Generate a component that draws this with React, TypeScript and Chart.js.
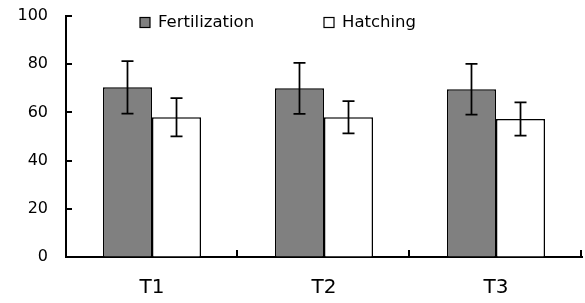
import React, { useEffect, useRef } from "react";
import { Chart, registerables } from "chart.js";

Chart.register(...registerables);

const categories = ["T1", "T2", "T3"];
const fertilization = [70.4, 70.0, 69.6];
const fertilizationErr = [10.9, 10.6, 10.5];
const hatching = [58.0, 58.0, 57.3];
const hatchingErr = [7.9, 6.7, 6.9];
const yTicks = [0, 20, 40, 60, 80, 100];

const FONT = "'DejaVu Sans', 'Liberation Sans', Arial, sans-serif";

const errorBarPlugin = {
  id: "errorBars",
  afterDatasetsDraw(chart: any) {
    const ctx = chart.ctx;
    const y = chart.scales.y;
    ctx.save();
    ctx.strokeStyle = "#000";
    ctx.lineWidth = 1.75;
    chart.data.datasets.forEach((ds: any, di: number) => {
      const meta = chart.getDatasetMeta(di);
      const errs = ds.errors as number[];
      meta.data.forEach((bar: any, i: number) => {
        const v = ds.data[i];
        const e = errs[i];
        const x = bar.x;
        const yt = y.getPixelForValue(v + e);
        const yb = y.getPixelForValue(v - e);
        ctx.beginPath();
        ctx.moveTo(x, yt);
        ctx.lineTo(x, yb);
        ctx.moveTo(x - 6, yt);
        ctx.lineTo(x + 6, yt);
        ctx.moveTo(x - 6, yb);
        ctx.lineTo(x + 6, yb);
        ctx.stroke();
      });
    });
    ctx.restore();
  },
};

const axisTickPlugin = {
  id: "inwardTicks",
  afterDraw(chart: any) {
    const ctx = chart.ctx;
    const x = chart.scales.x;
    const y = chart.scales.y;
    const area = chart.chartArea;
    ctx.save();
    ctx.strokeStyle = "#000";
    ctx.lineWidth = 2;
    ctx.beginPath();
    yTicks.forEach((t) => {
      const py = Math.round(y.getPixelForValue(t));
      ctx.moveTo(area.left, py);
      ctx.lineTo(area.left + 6, py);
    });
    const n = categories.length;
    for (let i = 1; i <= n; i++) {
      const px = Math.round(x.left + (i * (x.right - x.left)) / n) - 1;
      ctx.moveTo(px, area.bottom);
      ctx.lineTo(px, area.bottom - 7);
    }
    ctx.stroke();
    ctx.restore();
  },
};

const legendPlugin = {
  id: "insideLegend",
  afterDraw(chart: any) {
    const ctx = chart.ctx;
    const positions = [140, 324];
    ctx.save();
    ctx.font = `16.5px ${FONT}`;
    ctx.textBaseline = "middle";
    ctx.textAlign = "left";
    chart.data.datasets.forEach((ds: any, i: number) => {
      const bx = positions[i];
      const by = 17.5;
      ctx.fillStyle = ds.backgroundColor;
      ctx.fillRect(bx, by, 10, 10);
      ctx.strokeStyle = "#000";
      ctx.lineWidth = 1.2;
      ctx.strokeRect(bx, by, 10, 10);
      ctx.fillStyle = "#000";
      ctx.fillText(ds.label, bx + 18, 23);
    });
    ctx.restore();
  },
};

export default function App() {
  const ref = useRef<HTMLCanvasElement>(null);

  useEffect(() => {
    if (!ref.current) return;
    const chart = new Chart(ref.current, {
      type: "bar",
      data: {
        labels: categories,
        datasets: [
          {
            label: "Fertilization",
            data: fertilization,
            errors: fertilizationErr,
            backgroundColor: "#808080",
            borderColor: "#000",
            borderWidth: 1.5,
            categoryPercentage: 0.57,
            barPercentage: 1,
          } as any,
          {
            label: "Hatching",
            data: hatching,
            errors: hatchingErr,
            backgroundColor: "#ffffff",
            borderColor: "#000",
            borderWidth: 1.5,
            categoryPercentage: 0.57,
            barPercentage: 1,
          } as any,
        ],
      },
      options: {
        responsive: false,
        animation: false,
        layout: { padding: { top: 16, right: 3, left: 0, bottom: 0 } },
        plugins: {
          legend: { display: false },
          tooltip: { enabled: false },
        },
        scales: {
          x: {
            offset: true,
            grid: { display: true, drawOnChartArea: false, drawTicks: false },
            border: { display: true, color: "#000", width: 2 },
            ticks: {
              color: "#000",
              font: { family: FONT, size: 20 },
              padding: 19,
            },
            afterFit: (s: any) => {
              s.height = 46;
            },
          },
          y: {
            min: 0,
            max: 100,
            grid: {
              display: true,
              drawOnChartArea: false,
              drawTicks: true,
              tickLength: 18,
              tickColor: "rgba(0,0,0,0)",
            },
            border: { display: true, color: "#000", width: 2 },
            ticks: {
              stepSize: 20,
              color: "#000",
              font: { family: FONT, size: 16 },
              padding: 0,
            },
            afterFit: (s: any) => {
              s.width = 66;
            },
          },
        },
      },
      plugins: [errorBarPlugin, axisTickPlugin, legendPlugin],
    });
    return () => chart.destroy();
  }, []);

  return (
    <div style={{ position: "fixed", left: 0, top: 0, width: 585, height: 303, background: "#fff" }}>
      <canvas ref={ref} width={585} height={303} style={{ display: "block" }} />
    </div>
  );
}
